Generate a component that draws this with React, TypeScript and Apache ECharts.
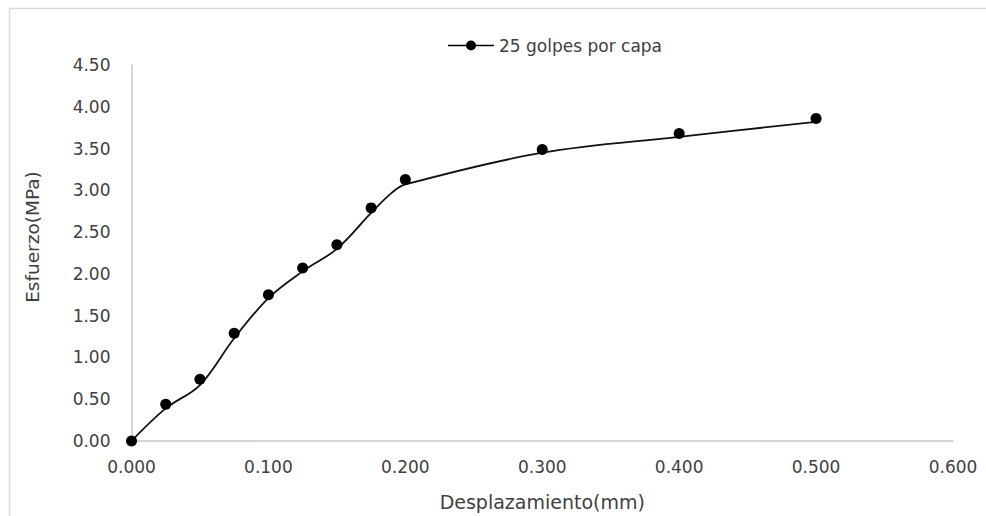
import React, { useEffect, useRef } from "react";
import * as echarts from "echarts";

// Measured points (desplazamiento mm, esfuerzo MPa)
const pointX = [0, 0.025, 0.05, 0.075, 0.1, 0.125, 0.15, 0.175, 0.2, 0.3, 0.4, 0.5];
const pointY = [0, 0.44, 0.74, 1.29, 1.75, 2.07, 2.35, 2.79, 3.13, 3.49, 3.68, 3.86];

// Smoothed curve as drawn in the picture
const curveX = [0, 0.025, 0.05, 0.075, 0.1, 0.125, 0.15, 0.175, 0.19, 0.2, 0.3, 0.4, 0.5];
const curveY = [0, 0.39, 0.67, 1.23, 1.71, 2.03, 2.3, 2.73, 2.97, 3.07, 3.45, 3.64, 3.82];

const seriesName = "25 golpes por capa";
const xTitle = "Desplazamiento(mm)";
const yTitle = "Esfuerzo(MPa)";

export default function App() {
  const ref = useRef<HTMLDivElement>(null);
  useEffect(() => {
    document.body.style.margin = "0";
    if (!ref.current) return;
    const chart = echarts.init(ref.current, null, { renderer: "svg" });
    const font = "DejaVu Sans";
    const textColor = "#404040";
    chart.setOption({
      animation: false,
      backgroundColor: "#ffffff",
      grid: { left: 131.5, right: 33, top: 65, bottom: 74.5, containLabel: false },
      legend: {
        data: [
          {
            name: seriesName,
            icon: "path://M0,4.3H46V5.7H0Z M28,5A5,5,0,1,1,18,5A5,5,0,1,1,28,5Z",
          },
        ],
        left: 443,
        top: 32,
        itemWidth: 46,
        itemHeight: 10,
        itemGap: 5,
        textStyle: { fontFamily: font, fontSize: 17, color: textColor },
      },
      xAxis: {
        type: "value",
        min: 0,
        max: 0.6,
        interval: 0.1,
        name: xTitle,
        nameLocation: "middle",
        nameGap: 51,
        nameTextStyle: { fontFamily: font, fontSize: 19, color: textColor },
        axisLine: { show: true, lineStyle: { color: "#c8c8c8", width: 1.5 } },
        axisTick: { show: false },
        splitLine: { show: false },
        axisLabel: {
          margin: 17,
          fontFamily: font,
          fontSize: 17,
          color: textColor,
          formatter: (v: number) => v.toFixed(3),
        },
      },
      yAxis: {
        type: "value",
        min: 0,
        max: 4.5,
        interval: 0.5,
        axisLine: { show: true, lineStyle: { color: "#c8c8c8", width: 1.5 } },
        axisTick: { show: false },
        splitLine: { show: false },
        axisLabel: {
          margin: 21,
          fontFamily: font,
          fontSize: 17,
          color: textColor,
          formatter: (v: number) => v.toFixed(2),
        },
      },
      graphic: [
        {
          type: "rect",
          shape: { x: 9.5, y: 8.5, width: 990, height: 520 },
          style: { fill: "none", stroke: "#d9d9d9", lineWidth: 1.5 },
          silent: true,
        },
        {
          type: "text",
          x: 32,
          y: 237,
          rotation: Math.PI / 2,
          style: {
            text: yTitle,
            fontFamily: font,
            fontSize: 18.5,
            fill: textColor,
            align: "center",
            verticalAlign: "middle",
          },
        },
      ],
      series: [
        {
          name: seriesName,
          type: "line",
          smooth: 0.35,
          showSymbol: false,
          symbol: "none",
          lineStyle: { color: "#111111", width: 1.8 },
          itemStyle: { color: "#000000" },
          data: curveX.map((x, i) => [x, curveY[i]]),
          z: 2,
        },
        {
          name: seriesName,
          type: "scatter",
          symbol: "circle",
          symbolSize: 11,
          itemStyle: { color: "#000000", opacity: 1 },
          data: pointX.map((x, i) => [x, pointY[i]]),
          z: 3,
        },
      ],
    });
    return () => chart.dispose();
  }, []);
  return <div ref={ref} style={{ width: 986, height: 516 }} />;
}
